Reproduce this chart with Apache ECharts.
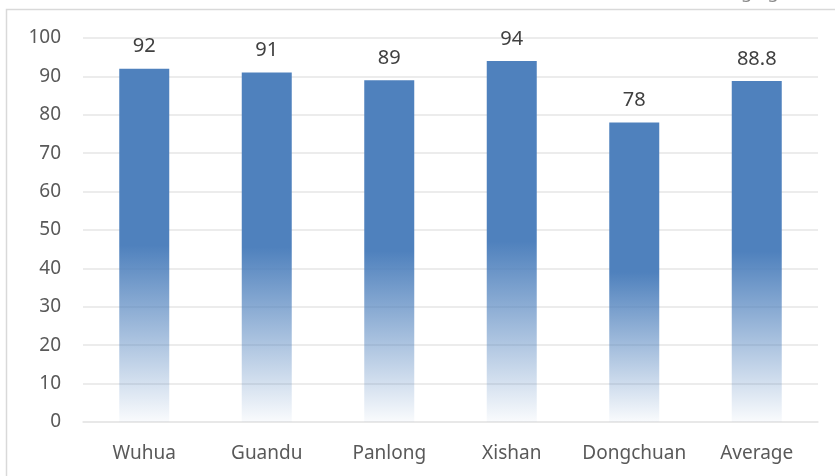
<!DOCTYPE html>
<html>
<head>
<meta charset="utf-8">
<script src="https://cdn.jsdelivr.net/npm/echarts@6/dist/echarts.min.js"></script>
<style>
  html, body { margin: 0; padding: 0; background: #fff; }
  #main { width: 835px; height: 476px; }
</style>
</head>
<body>
<div id="main"></div>
<script>
// 区县名称
const districts = ['Wuhua', 'Guandu', 'Panlong', 'Xishan', 'Dongchuan', 'Average']
// 得分
const scores = [92, 91, 89, 94, 78, 88.8]
// y轴刻度
const yTicks = [0, 10, 20, 30, 40, 50, 60, 70, 80, 90, 100]

const chart = echarts.init(document.getElementById('main'))
const txt = '#595959'
const font = 'Noto Sans'

const option = {
  backgroundColor: '#fff',
  animation: false,
  graphic: [
    {
      type: 'rect',
      shape: { x: 6.5, y: 9.5, width: 900, height: 600 },
      style: { fill: 'none', stroke: '#d9d9d9', lineWidth: 1.5 }
    },
    {
      type: 'text',
      x: 0,
      y: 2,
      style: {
        text: 'total score of the assessed cities can be calculated. The results are shown in the following figure.',
        fill: '#888', font: '18px "Noto Sans"', verticalAlign: 'bottom'
      }
    }
  ],
  grid: { left: 83, right: 17, top: 38, bottom: 54 },
  xAxis: {
    type: 'category',
    data: districts,
    axisLine: { show: true, lineStyle: { color: '#e6e6e6', width: 1.5 } },
    axisTick: { show: false },
    axisLabel: { interval: 0, color: txt, fontSize: 19, fontFamily: font, margin: 22 }
  },
  yAxis: {
    type: 'value',
    min: yTicks[0],
    max: yTicks[yTicks.length - 1],
    interval: 10,
    axisLine: { show: false },
    axisTick: { show: false },
    splitLine: { lineStyle: { color: '#e6e6e6', width: 1.5 } },
    axisLabel: { color: txt, fontSize: 19, fontFamily: font, margin: 22 }
  },
  series: [{
    type: 'bar',
    data: scores,
    barWidth: 50,
    label: {
      show: true,
      position: 'top',
      distance: 12,
      color: '#404040',
      fontSize: 20,
      fontFamily: font
    },
    itemStyle: {
      color: new echarts.graphic.LinearGradient(0, 0, 0, 1, [
        { offset: 0, color: '#4F81BD' },
        { offset: 0.5, color: '#4F81BD' },
        { offset: 1, color: 'rgba(79,129,189,0.03)' }
      ])
    }
  }]
}
chart.setOption(option)
</script>
</body>
</html>
